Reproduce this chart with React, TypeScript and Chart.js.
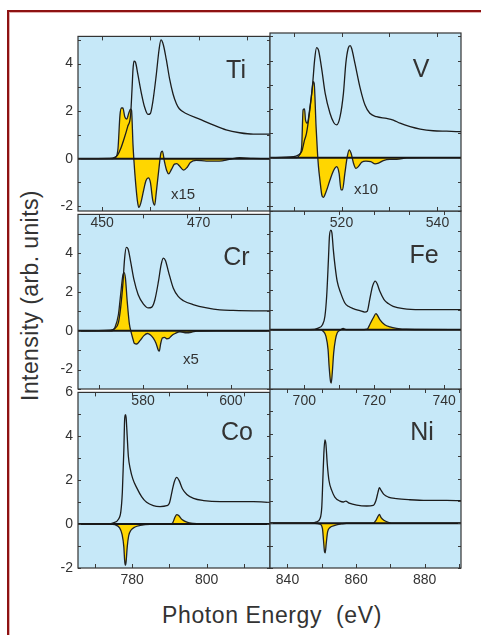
import React, { useEffect, useRef } from "react";
import { Chart, registerables } from "chart.js";

Chart.register(...registerables);

type Pt = [number, number];

// ---------------- data (photon energy eV, intensity) ----------------
const tiXas: Pt[] = [
  [444.9, 0], [451.5, 0.01], [452.5, 0.04], [453.2, 0.15], [453.9, 0.45], [454.6, 0.87], [455.3, 1.35],
  [455.9, 1.83], [456.2, 2.93], [456.4, 3.75], [456.6, 4.1], [456.9, 4.06], [457.4, 3.55], [458.1, 2.79],
  [458.8, 2.17], [459.5, 1.86], [460.0, 1.9], [460.5, 2.38], [461.2, 3.48], [461.8, 4.58], [462.2, 4.99],
  [462.7, 4.78], [463.3, 4.17], [464.0, 3.34], [464.7, 2.72], [465.4, 2.31], [466.0, 2.1], [467.4, 1.9],
  [470.2, 1.66], [473.0, 1.42], [475.7, 1.21], [478.5, 1.09], [481.3, 1.03], [484.8, 1.03],
];
const tiXmcd: Pt[] = [
  [444.9, 0], [452.2, 0], [452.9, 0.07], [453.3, 0.45], [453.7, 1.83], [454.0, 2.13], [454.3, 2.13],
  [454.7, 1.76], [455.1, 1.66], [455.5, 1.9], [455.9, 2.08], [456.1, 2.03], [456.4, 0.59], [456.6, -0.1],
  [456.9, -0.92], [457.3, -1.75], [457.6, -2.05], [458.0, -1.88], [458.6, -1.33], [459.1, -0.92],
  [459.6, -0.81], [460.0, -0.99], [460.5, -1.75], [460.9, -1.95], [461.2, -1.47], [461.8, -0.37],
  [462.2, 0.25], [462.5, 0.32], [462.9, -0.1], [463.4, -0.51], [463.8, -0.64], [464.4, -0.44],
  [465.0, -0.23], [465.5, -0.21], [466.0, -0.3], [466.9, -0.48], [467.6, -0.37], [468.3, -0.16],
  [469.5, -0.07], [471.6, -0.1], [474.3, -0.1], [476.4, -0.03], [478.5, 0.04], [481.3, 0.01], [484.8, 0],
];

const vXas: Pt[] = [
  [505.1, 0], [510.0, 0.04], [511.0, 0.11], [511.7, 0.25], [512.3, 0.73], [512.7, 1.0], [513.4, 1.97],
  [514.0, 3.07], [514.4, 4.03], [514.8, 4.54], [515.2, 4.44], [515.9, 3.62], [516.6, 2.65], [517.6, 1.83],
  [518.4, 1.44], [519.0, 1.35], [519.7, 1.69], [520.4, 2.65], [520.9, 3.89], [521.4, 4.51], [521.8, 4.62],
  [522.1, 4.51], [522.8, 3.89], [523.9, 2.86], [524.9, 2.17], [525.9, 1.83], [527.3, 1.69], [529.4, 1.62],
  [530.8, 1.55], [532.2, 1.42], [534.3, 1.28], [536.4, 1.18], [539.1, 1.11], [541.9, 1.09], [544.9, 1.07],
];
const vXmcd: Pt[] = [
  [505.1, 0], [510.7, 0], [511.2, 0.1], [511.7, 0.45], [512.0, 1.97], [512.3, 2.01], [512.5, 1.55],
  [512.9, 1.42], [513.3, 1.9], [513.8, 2.65], [514.1, 3.13], [514.3, 3.07], [514.7, 1.28], [515.0, 0.18],
  [515.2, -0.37], [515.5, -0.92], [515.9, -1.54], [516.2, -1.64], [516.8, -1.4], [517.6, -0.92],
  [518.4, -0.51], [519.0, -0.37], [519.5, -0.65], [519.9, -1.33], [520.2, -1.33], [520.7, -0.65],
  [521.2, 0.04], [521.6, 0.32], [522.0, 0.18], [522.5, -0.23], [523.0, -0.44], [523.5, -0.37],
  [524.2, -0.19], [525.1, -0.14], [526.1, -0.16], [527.0, -0.26], [527.7, -0.23], [528.7, -0.12],
  [530.1, -0.07], [531.5, -0.07], [533.6, -0.01], [537.7, 0], [544.9, 0],
];

const crXas: Pt[] = [
  [565.2, 0], [572.5, 0.03], [573.6, 0.12], [574.4, 0.42], [574.9, 1.18], [575.4, 2.36], [575.8, 3.71],
  [576.2, 4.3], [576.6, 4.22], [577.2, 3.54], [577.95, 2.62], [578.9, 1.86], [580.1, 1.38], [581.2, 1.18],
  [582.0, 1.22], [582.7, 1.6], [583.5, 2.53], [584.1, 3.38], [584.6, 3.75], [585.1, 3.63], [585.8, 3.04],
  [586.9, 2.19], [588.0, 1.77], [589.2, 1.55], [591.4, 1.35], [594.5, 1.18], [597.5, 1.08], [600.5, 1.05],
  [605.1, 1.03], [608.9, 1.03],
];
const crXmcd: Pt[] = [
  [565.2, 0], [572.9, 0], [573.6, 0.17], [574.4, 0.84], [574.9, 1.86], [575.4, 2.84], [575.7, 3.0],
  [576.0, 2.7], [576.4, 1.52], [576.9, 0.34], [577.3, -0.08], [577.7, -0.42], [578.0, -0.64], [578.6, -0.68],
  [579.3, -0.51], [580.2, -0.25], [581.0, -0.14], [581.7, -0.22], [582.3, -0.37], [582.95, -0.64],
  [583.5, -1.01], [583.7, -1.05], [584.0, -0.68], [584.4, -0.37], [584.9, -0.34], [585.4, -0.41],
  [585.9, -0.39], [586.5, -0.25], [587.3, -0.14], [588.4, -0.05], [589.9, -0.1], [591.1, -0.07],
  [592.2, -0.02], [596.7, 0], [608.9, 0],
];

const feXas: Pt[] = [
  [690.2, 0], [701.6, 0], [704.0, 0.08], [705.2, 0.25], [705.9, 0.68], [706.4, 1.69], [706.9, 3.54],
  [707.2, 4.73], [707.6, 5.03], [707.9, 4.89], [708.3, 4.05], [708.8, 3.21], [709.4, 2.45], [710.4, 1.86],
  [711.6, 1.35], [712.6, 1.18], [714.0, 1.06], [715.9, 0.96], [717.3, 0.89], [718.0, 0.93], [718.7, 1.52],
  [719.5, 2.19], [720.3, 2.45], [720.8, 2.33], [721.6, 1.94], [722.8, 1.52], [724.0, 1.32], [725.4, 1.18],
  [728.3, 1.06], [733.1, 1.01], [738.8, 1.01], [744.8, 1.01],
];
const feXmcd: Pt[] = [
  [690.2, 0], [704.5, 0], [705.4, -0.08], [706.2, -0.34], [706.8, -1.01], [707.1, -1.86], [707.5, -2.62],
  [707.7, -2.7], [708.0, -2.19], [708.4, -1.18], [708.9, -0.51], [709.4, -0.17], [710.2, -0.03],
  [711.1, 0.06], [711.9, 0], [715.9, 0], [718.0, 0.03], [718.7, 0.25], [719.7, 0.59], [720.5, 0.81],
  [720.8, 0.76], [721.6, 0.51], [723.0, 0.25], [724.5, 0.14], [726.4, 0.07], [729.2, 0.02], [744.8, 0],
];

const coXas: Pt[] = [
  [765.5, 0], [773.2, 0], [775.0, 0.06], [776.3, 0.21], [777.0, 0.58], [777.4, 1.47], [777.8, 3.39],
  [778.0, 4.73], [778.2, 4.99], [778.4, 4.87], [778.7, 3.99], [779.0, 3.1], [779.5, 2.53], [780.2, 2.06],
  [781.3, 1.64], [782.6, 1.24], [783.9, 0.99], [785.7, 0.84], [787.5, 0.8], [789.3, 0.84], [790.0, 0.95],
  [790.7, 1.47], [791.3, 1.91], [792.0, 2.13], [792.6, 1.99], [793.5, 1.61], [794.7, 1.35], [796.5, 1.17],
  [799.2, 1.07], [803.7, 1.02], [809.0, 1.02], [812.6, 1.02], [817.0, 0.99],
];
const coXmcd: Pt[] = [
  [765.5, 0], [774.1, 0], [775.4, -0.03], [776.6, -0.16], [777.3, -0.46], [777.8, -1.05], [778.0, -1.64],
  [778.2, -1.87], [778.4, -1.72], [778.7, -1.05], [779.1, -0.53], [779.7, -0.28], [780.8, -0.13],
  [782.2, -0.06], [784.8, -0.01], [790.2, 0], [790.9, 0.06], [791.5, 0.31], [792.0, 0.43], [792.5, 0.39],
  [793.4, 0.21], [794.7, 0.09], [796.5, 0.03], [800.1, 0], [817.0, 0],
];

const niXas: Pt[] = [
  [834.9, 0], [846.6, 0], [848.5, 0.06], [849.5, 0.21], [850.0, 0.73], [850.3, 1.91], [850.6, 3.1],
  [850.9, 3.72], [851.2, 3.54], [851.6, 2.65], [852.1, 1.91], [852.9, 1.47], [853.8, 1.17], [855.3, 0.99],
  [856.3, 0.95], [857.0, 0.99], [858.0, 0.9], [860.2, 0.81], [863.1, 0.77], [865.0, 0.8], [865.8, 1.02],
  [866.4, 1.39], [866.8, 1.59], [867.3, 1.47], [868.1, 1.29], [869.4, 1.17], [871.8, 1.1], [875.7, 1.05],
  [880.6, 1.02], [886.4, 1.02], [890.6, 1.01],
];
const niXmcd: Pt[] = [
  [834.9, 0], [848.0, 0], [849.5, -0.04], [850.2, -0.24], [850.5, -0.76], [850.8, -1.27], [851.0, -1.32],
  [851.3, -0.9], [851.7, -0.39], [852.4, -0.19], [853.8, -0.1], [855.8, -0.03], [857.2, 0], [865.0, 0],
  [865.8, 0.13], [866.4, 0.31], [866.8, 0.39], [867.3, 0.25], [868.1, 0.13], [869.4, 0.04], [870.9, 0],
  [890.6, 0],
];

// tick labels
const TI_X_LABELS = [450, 470];
const V_X_LABELS = [520, 540];
const CR_X_LABELS = [580, 600];
const FE_X_LABELS = [700, 720, 740];
const CO_X_LABELS = [780, 800];
const NI_X_LABELS = [840, 860, 880];
const ROW1_Y_LABELS = [-2, 0, 2, 4];
const ROW2_Y_LABELS = [-2, 0, 2, 4];
const ROW3_Y_LABELS = [-2, 0, 2, 4, 6];

const ELEMENTS = ["Ti", "V", "Cr", "Fe", "Co", "Ni"];
const SCALE_NOTES = ["x15", "x10", "x5"];

// ---------------- styles ----------------
const FONT = '"Liberation Sans", Arial, Helvetica, sans-serif';
const BG = "#c6e8f8";
const YELLOW = "#ffd600";
const TEXT = "#333333";

const ROW_TOPS = [33, 211, 389];
const ROW_HEIGHTS = [178, 178, 179];
const COL_LEFTS = [78, 270];
const COL_WIDTHS = [192, 191];

type PanelCfg = {
  xas: Pt[];
  xmcd: Pt[];
  xMin: number;
  xMax: number;
  yMin: number;
  yMax: number;
  xLabels: number[];
  yLabels: number[];
  row: number;
  col: number;
};

const PANELS: PanelCfg[] = [
  { xas: tiXas, xmcd: tiXmcd, xMin: 445.0, xMax: 484.8, yMin: -2.2, yMax: 5.14, xLabels: TI_X_LABELS, yLabels: ROW1_Y_LABELS, row: 0, col: 0 },
  { xas: vXas, xmcd: vXmcd, xMin: 505.1, xMax: 544.9, yMin: -2.2, yMax: 5.14, xLabels: V_X_LABELS, yLabels: ROW1_Y_LABELS, row: 0, col: 1 },
  { xas: crXas, xmcd: crXmcd, xMin: 565.2, xMax: 608.9, yMin: -3, yMax: 6, xLabels: CR_X_LABELS, yLabels: ROW2_Y_LABELS, row: 1, col: 0 },
  { xas: feXas, xmcd: feXmcd, xMin: 690.2, xMax: 744.8, yMin: -3, yMax: 6, xLabels: FE_X_LABELS, yLabels: ROW2_Y_LABELS, row: 1, col: 1 },
  { xas: coXas, xmcd: coXmcd, xMin: 765.5, xMax: 817.0, yMin: -2, yMax: 6, xLabels: CO_X_LABELS, yLabels: ROW3_Y_LABELS, row: 2, col: 0 },
  { xas: niXas, xmcd: niXmcd, xMin: 834.9, xMax: 890.6, yMin: -2, yMax: 6, xLabels: NI_X_LABELS, yLabels: ROW3_Y_LABELS, row: 2, col: 1 },
];

const PAD_TOP = 10;
const PAD_SIDE = 4;
const X_AXIS_H = 26;
const Y_AXIS_W = 30;

const panelDeco = {
  id: "panelDeco",
  beforeDraw(chart: any) {
    const { ctx, chartArea: a } = chart;
    ctx.save();
    ctx.fillStyle = BG;
    ctx.fillRect(a.left, a.top, a.right - a.left, a.bottom - a.top);
    ctx.restore();
  },
  afterDraw(chart: any) {
    const { ctx, chartArea: a } = chart;
    const x = chart.scales.x;
    const y = chart.scales.y;
    ctx.save();
    ctx.strokeStyle = "#3a3a3a";
    ctx.lineWidth = 1;
    const seg = (x1: number, y1: number, x2: number, y2: number) => {
      ctx.beginPath();
      ctx.moveTo(x1, y1);
      ctx.lineTo(x2, y2);
      ctx.stroke();
    };
    for (let v = Math.ceil(x.min / 10) * 10; v <= x.max; v += 10) {
      const px = Math.round(x.getPixelForValue(v)) + 0.5;
      seg(px, a.bottom, px, a.bottom - 4);
      seg(px, a.top, px, a.top + 4);
    }
    for (let v = Math.ceil(y.min); v <= y.max; v += 1) {
      const py = Math.round(y.getPixelForValue(v)) + 0.5;
      seg(a.left, py, a.left + 3, py);
      seg(a.right, py, a.right - 3, py);
    }
    ctx.lineWidth = 1.2;
    ctx.strokeStyle = "#333";
    ctx.strokeRect(a.left, a.top, a.right - a.left, a.bottom - a.top);
    ctx.restore();
  },
};

function Panel({ cfg }: { cfg: PanelCfg }) {
  const ref = useRef<HTMLCanvasElement | null>(null);
  const isLeft = cfg.col === 0;
  const chartLeft = COL_LEFTS[cfg.col];
  const chartTop = ROW_TOPS[cfg.row];
  const cw = COL_WIDTHS[cfg.col];
  const ch = ROW_HEIGHTS[cfg.row];
  const padLeft = isLeft ? 0 : PAD_SIDE;
  const yW = isLeft ? Y_AXIS_W : 0;
  const canvasLeft = chartLeft - yW - padLeft;
  const canvasTop = chartTop - PAD_TOP;
  const width = padLeft + yW + cw + PAD_SIDE;
  const height = PAD_TOP + ch + X_AXIS_H;

  useEffect(() => {
    if (!ref.current) return;
    const toXY = (arr: Pt[]) => arr.map(([x, y]) => ({ x, y }));
    const tickFont = { family: FONT, size: 14 };
    const chart = new Chart(ref.current, {
      type: "line",
      data: {
        datasets: [
          {
            data: toXY(cfg.xas),
            borderColor: "#1c1c1c",
            borderWidth: 1.3,
            pointRadius: 0,
            fill: false,
            cubicInterpolationMode: "monotone",
          },
          {
            data: [
              { x: cfg.xMin, y: 0 },
              { x: cfg.xMax, y: 0 },
            ],
            borderColor: "#151515",
            borderWidth: 2,
            pointRadius: 0,
            fill: false,
          },
          {
            data: toXY(cfg.xmcd),
            borderColor: "#222222",
            borderWidth: 1.3,
            backgroundColor: YELLOW,
            pointRadius: 0,
            fill: "origin",
            cubicInterpolationMode: "monotone",
          },
        ],
      },
      options: {
        animation: false,
        responsive: false,
        maintainAspectRatio: false,
        devicePixelRatio: 1,
        events: [],
        layout: { padding: { top: PAD_TOP, right: PAD_SIDE, left: padLeft, bottom: 0 } },
        plugins: { legend: { display: false }, tooltip: { enabled: false } },
        scales: {
          x: {
            type: "linear",
            min: cfg.xMin,
            max: cfg.xMax,
            grid: { display: false, drawTicks: false },
            border: { display: false },
            ticks: {
              stepSize: 10,
              autoSkip: false,
              maxRotation: 0,
              includeBounds: false,
              padding: 4,
              color: TEXT,
              font: tickFont,
              callback: (v: any) => (cfg.xLabels.includes(Number(v)) ? String(v) : ""),
            },
            afterFit: (s: any) => {
              s.height = X_AXIS_H;
            },
          },
          y: {
            type: "linear",
            min: cfg.yMin,
            max: cfg.yMax,
            grid: { display: false, drawTicks: false },
            border: { display: false },
            ticks: {
              display: isLeft,
              stepSize: 2,
              includeBounds: false,
              padding: 5,
              color: TEXT,
              font: tickFont,
              callback: (v: any) => (cfg.yLabels.includes(Number(v)) ? String(v) : ""),
            },
            afterFit: (s: any) => {
              s.width = yW;
            },
          },
        },
      } as any,
      plugins: [panelDeco],
    });
    return () => chart.destroy();
  }, []);

  return (
    <canvas
      ref={ref}
      width={width}
      height={height}
      style={{
        position: "absolute",
        left: canvasLeft,
        top: canvasTop,
        width,
        height,
        zIndex: 5 - cfg.row,
      }}
    />
  );
}

const ELEMENT_POS: [number, number][] = [
  [236, 69],
  [421, 68],
  [236.5, 256],
  [424, 254],
  [237, 431.5],
  [422, 431],
];
const NOTE_POS: [number, number][] = [
  [183, 193],
  [366, 188],
  [191, 358],
];

function Label({ text, cx, cy, size }: { text: string; cx: number; cy: number; size: number }) {
  return (
    <div
      style={{
        position: "absolute",
        left: cx - 50,
        top: cy - size / 2,
        width: 100,
        height: size,
        lineHeight: `${size}px`,
        fontSize: size,
        fontFamily: FONT,
        color: TEXT,
        textAlign: "center",
        zIndex: 10,
        whiteSpace: "pre",
      }}
    >
      {text}
    </div>
  );
}

export default function App() {
  return (
    <div
      style={{
        position: "fixed",
        left: 0,
        top: 0,
        width: 481,
        height: 635,
        overflow: "hidden",
        background: "#ffffff",
      }}
    >
      <div
        style={{
          position: "absolute",
          left: 7,
          top: 10,
          width: 600,
          height: 800,
          border: "2px solid #8e1212",
          boxShadow: "inset 1px 1px 0 #e2b0b0",
        }}
      />
      {PANELS.map((p, i) => (
        <Panel key={i} cfg={p} />
      ))}
      {ELEMENTS.map((t, i) => (
        <Label key={t} text={t} cx={ELEMENT_POS[i][0]} cy={ELEMENT_POS[i][1]} size={25} />
      ))}
      {SCALE_NOTES.map((t, i) => (
        <Label key={t} text={t} cx={NOTE_POS[i][0]} cy={NOTE_POS[i][1]} size={15} />
      ))}
      <div
        style={{
          position: "absolute",
          left: 29.5 - 150,
          top: 295 - 11.5,
          width: 300,
          height: 23,
          lineHeight: "23px",
          fontSize: 23,
          letterSpacing: 0.4,
          fontFamily: FONT,
          color: TEXT,
          textAlign: "center",
          transform: "rotate(-90deg)",
          whiteSpace: "pre",
          zIndex: 10,
        }}
      >
        Intensity (arb. units)
      </div>
      <div
        style={{
          position: "absolute",
          left: 272 - 150,
          top: 603.5,
          width: 300,
          height: 23,
          lineHeight: "23px",
          fontSize: 23,
          letterSpacing: 0.6,
          fontFamily: FONT,
          color: TEXT,
          textAlign: "center",
          whiteSpace: "pre",
          zIndex: 10,
        }}
      >
        {"Photon Energy  (eV)"}
      </div>
    </div>
  );
}
